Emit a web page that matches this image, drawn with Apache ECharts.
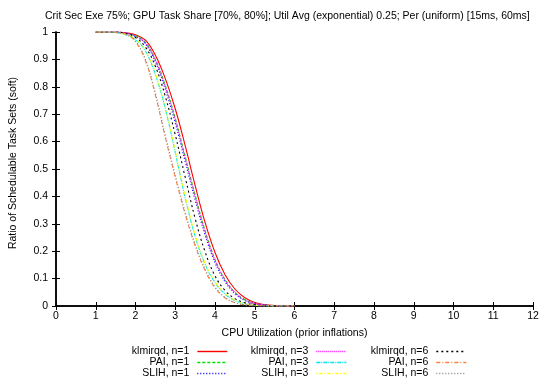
<!DOCTYPE html>
<html>
<head>
<meta charset="utf-8">
<script src="https://cdn.jsdelivr.net/npm/echarts@6/dist/echarts.min.js"></script>
<style>
  html, body { margin: 0; padding: 0; background: #fff; }
  #chart { width: 539px; height: 381px; }
</style>
</head>
<body>
<div id="chart"></div>
<script>
// CPU utilization sample points (prior inflations)
const utilization = [1, 1.25, 1.5, 1.75, 2, 2.25, 2.5, 2.75, 3, 3.25, 3.5, 3.75, 4, 4.25, 4.5, 4.75, 5, 5.25, 5.5, 5.75, 6];

// Ratio of schedulable task sets (soft) per method
const klmirqd1 = [1, 1, 1, 0.997, 0.99, 0.97, 0.915, 0.83, 0.72, 0.585, 0.44, 0.305, 0.195, 0.115, 0.062, 0.03, 0.013, 0.005, 0.0017, 0.0004, 0];
const pai1     = [1, 1, 1, 0.996, 0.986, 0.962, 0.90, 0.805, 0.685, 0.545, 0.405, 0.275, 0.17, 0.097, 0.05, 0.023, 0.0095, 0.0035, 0.001, 0.0002, 0];
const slih1    = [1, 1, 1, 0.996, 0.984, 0.956, 0.89, 0.79, 0.668, 0.527, 0.387, 0.259, 0.158, 0.089, 0.045, 0.02, 0.008, 0.003, 0.0008, 0.0001, 0];
const klmirqd3 = [1, 1, 1, 0.996, 0.985, 0.96, 0.897, 0.80, 0.68, 0.54, 0.40, 0.27, 0.167, 0.095, 0.049, 0.022, 0.009, 0.0033, 0.001, 0.0002, 0];
const pai3     = [1, 1, 0.998, 0.99, 0.972, 0.93, 0.845, 0.72, 0.56, 0.395, 0.255, 0.153, 0.086, 0.044, 0.02, 0.0085, 0.003, 0.001, 0.0002, 0, 0];
const slih3    = [1, 1, 0.998, 0.991, 0.974, 0.933, 0.85, 0.726, 0.566, 0.401, 0.26, 0.157, 0.089, 0.046, 0.021, 0.009, 0.0033, 0.001, 0.0002, 0, 0];
const klmirqd6 = [1, 1, 1, 0.995, 0.98, 0.945, 0.875, 0.765, 0.625, 0.47, 0.32, 0.198, 0.11, 0.057, 0.027, 0.012, 0.0048, 0.0015, 0.0004, 0, 0];
const pai6     = [1, 1, 0.998, 0.993, 0.965, 0.895, 0.77, 0.615, 0.47, 0.335, 0.22, 0.13, 0.067, 0.03, 0.012, 0.0042, 0.0013, 0.0003, 0, 0, 0];
const slih6    = [1, 1, 0.998, 0.993, 0.967, 0.90, 0.777, 0.623, 0.478, 0.343, 0.227, 0.135, 0.07, 0.032, 0.013, 0.0046, 0.0014, 0.0004, 0, 0, 0];

const xTicks = [0, 1, 2, 3, 4, 5, 6, 7, 8, 9, 10, 11, 12];
const yTicks = [0, 0.1, 0.2, 0.3, 0.4, 0.5, 0.6, 0.7, 0.8, 0.9, 1];

const titleText = 'Crit Sec Exe 75%; GPU Task Share [70%, 80%]; Util Avg (exponential) 0.25; Per (uniform) [15ms, 60ms]';

const FONT = 'Liberation Sans, Arial, Helvetica, sans-serif';
const FS = 10.5;

// name, values, colour, dash pattern
const seriesDefs = [
  ['klmirqd, n=1', klmirqd1, '#ff0000', 'solid'],
  ['PAI, n=1',     pai1,     '#00e000', [3, 2]],
  ['SLIH, n=1',    slih1,    '#0000ff', [1, 2]],
  ['klmirqd, n=3', klmirqd3, '#ff00ff', [1, 1]],
  ['PAI, n=3',     pai3,     '#00e8e8', [4, 1, 1, 1]],
  ['SLIH, n=3',    slih3,    '#ffff00', [1, 2, 3, 2]],
  ['klmirqd, n=6', klmirqd6, '#000000', [2, 3]],
  ['PAI, n=6',     pai6,     '#ff7f40', [4, 2, 1, 2]],
  ['SLIH, n=6',    slih6,    '#888888', [1, 2]]
];

const series = seriesDefs.map(([name, vals, color, dash]) => ({
  name: name,
  type: 'line',
  xAxisIndex: 0,
  yAxisIndex: 0,
  data: utilization.map((x, i) => [x, vals[i]]),
  symbol: 'none',
  smooth: 0.4,
  color: color,
  lineStyle: { color: color, width: 1.1, type: dash },
  itemStyle: { color: color },
  z: 3
}));

// Legend: three columns of three right-aligned entries
const legendRightEdges = [311, 192, 72];
const legendRowTops = [346, 357, 368];
const legends = [];
seriesDefs.forEach(([name, , color, dash], i) => {
  const col = Math.floor(i / 3);
  const row = i % 3;
  legends.push({
    data: [{
      name: name,
      itemStyle: { color: color, opacity: 0 },
      lineStyle: { color: color, type: dash, width: 1.4, opacity: 1 }
    }],
    right: legendRightEdges[col],
    top: legendRowTops[row],
    orient: 'vertical',
    align: 'right',
    padding: 0,
    itemWidth: 30,
    itemHeight: 8,
    itemGap: 0,
    selectedMode: false,
    inactiveColor: color,
    textStyle: { fontSize: FS, color: '#000', fontFamily: FONT, padding: [0, 3, 0, 0] }
  });
});

const axisLine = { show: true, lineStyle: { color: '#000', width: 1.5 } };
const tickIn = { show: true, inside: true, length: 4, lineStyle: { color: '#000', width: 1 } };

const option = {
  animation: false,
  backgroundColor: '#fff',
  title: {
    text: titleText,
    left: 40,
    top: 6,
    textStyle: { fontSize: FS, fontWeight: 'normal', color: '#000', fontFamily: FONT }
  },
  legend: legends,
  grid: { left: 56, right: 6, top: 32, bottom: 75, containLabel: false, outerBoundsMode: 'none' },
  xAxis: [
    {
      type: 'value', min: 0, max: 12, interval: 1,
      name: 'CPU Utilization (prior inflations)',
      nameLocation: 'middle', nameGap: 22,
      nameTextStyle: { fontSize: FS, color: '#000', fontFamily: FONT },
      axisLine: axisLine, axisTick: tickIn,
      axisLabel: { fontSize: FS, color: '#000', fontFamily: FONT, margin: 5,
        formatter: v => (xTicks.includes(v) ? String(v) : '') },
      splitLine: { show: false }
    },
    {
      type: 'value', min: 0, max: 12, interval: 1, position: 'top',
      axisLine: axisLine, axisTick: tickIn,
      axisLabel: { show: false }, splitLine: { show: false }
    }
  ],
  yAxis: [
    {
      type: 'value', min: 0, max: 1, interval: 0.1,
      name: 'Ratio of Schedulable Task Sets (soft)',
      nameLocation: 'middle', nameGap: 37,
      nameTextStyle: { fontSize: FS, color: '#000', fontFamily: FONT, padding: [0, 0, 0, 12] },
      axisLine: axisLine, axisTick: tickIn,
      axisLabel: { fontSize: FS, color: '#000', fontFamily: FONT, margin: 8,
        formatter: v => {
          const t = yTicks.find(y => Math.abs(y - v) < 1e-9);
          return t === undefined ? '' : String(t);
        } },
      splitLine: { show: false }
    },
    {
      type: 'value', min: 0, max: 1, interval: 0.1, position: 'right',
      axisLine: axisLine, axisTick: tickIn,
      axisLabel: { show: false }, splitLine: { show: false }
    }
  ],
  series: series
};

const chart = echarts.init(document.getElementById('chart'), null, { renderer: 'canvas' });
chart.setOption(option);
</script>
</body>
</html>
